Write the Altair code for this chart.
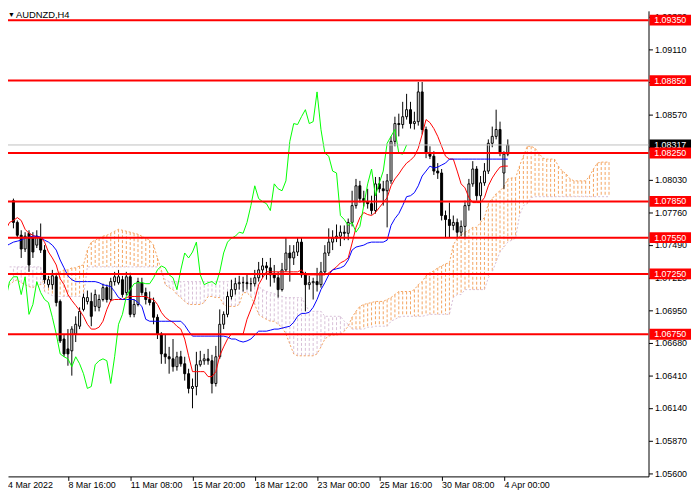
import altair as alt
import pandas as pd

symbol = "AUDNZD,H4"
last_price = 1.08317

x_tick_pos = [0, 16, 32, 48, 64, 80, 96, 112, 128]
x_tick_labels = ["4 Mar 2022", "8 Mar 16:00", "11 Mar 08:00", "15 Mar 20:00", "18 Mar 12:00",
                 "23 Mar 00:00", "25 Mar 16:00", "30 Mar 08:00", "4 Apr 00:00"]
y_ticks = [1.05600, 1.05870, 1.06140, 1.06410, 1.06680, 1.06950, 1.07220, 1.07490,
           1.07760, 1.08030, 1.08300, 1.08570, 1.08840, 1.09110, 1.09380]
levels = [1.09350, 1.08850, 1.08250, 1.07850, 1.07550, 1.07250, 1.06750]

open_ = [
    1.07733, 1.07831, 1.07856, 1.07676, 1.07570, 1.07456, 1.07586, 1.07546, 1.07488, 1.07546,
    1.07447, 1.07161, 1.07161, 1.07226, 1.07022, 1.06711, 1.06629, 1.06613, 1.06752, 1.06817,
    1.06956, 1.07022, 1.07022, 1.06981, 1.06973, 1.07038, 1.07136, 1.07038, 1.07186, 1.07177,
    1.07202, 1.07095, 1.07226, 1.06915, 1.06997, 1.07177, 1.07095, 1.07038, 1.07013, 1.06891,
    1.06752, 1.06588, 1.06564, 1.06547, 1.06482, 1.06564, 1.06506, 1.06424, 1.06302, 1.06318,
    1.06498, 1.06531, 1.06547, 1.06531, 1.06343, 1.06564, 1.06833, 1.06915, 1.07063, 1.07120,
    1.07169, 1.07177, 1.07177, 1.07169, 1.07169, 1.07218, 1.07283, 1.07316, 1.07300, 1.07242,
    1.07218, 1.07120, 1.07283, 1.07423, 1.07382, 1.07431, 1.07513, 1.07242, 1.07161, 1.07177,
    1.07186, 1.07161, 1.07267, 1.07423, 1.07513, 1.07546, 1.07562, 1.07595, 1.07586, 1.07676,
    1.07815, 1.07979, 1.07873, 1.07848, 1.07831, 1.07774, 1.07995, 1.07954, 1.07938, 1.08020,
    1.08347, 1.08494, 1.08486, 1.08551, 1.08609, 1.08494, 1.08510, 1.08756, 1.08445, 1.08249,
    1.08224, 1.08101, 1.08085, 1.07733, 1.07700, 1.07651, 1.07676, 1.07595, 1.07643, 1.07815,
    1.07995, 1.08118, 1.07897, 1.08004, 1.08101, 1.08331, 1.08388, 1.08445, 1.08085, 1.08241,
]
high_ = [
    1.07913, 1.07922, 1.07873, 1.07692, 1.07611, 1.07595, 1.07611, 1.07595, 1.07611, 1.07667,
    1.07488, 1.07234, 1.07283, 1.07259, 1.07038, 1.06744, 1.06793, 1.06817, 1.06899, 1.06973,
    1.07087, 1.07112, 1.07095, 1.07120, 1.07079, 1.07169, 1.07161, 1.07218, 1.07267, 1.07283,
    1.07234, 1.07267, 1.07259, 1.07038, 1.07218, 1.07218, 1.07136, 1.07104, 1.07054, 1.06915,
    1.06768, 1.06752, 1.06646, 1.06711, 1.06605, 1.06613, 1.06564, 1.06465, 1.06384, 1.06605,
    1.06613, 1.06588, 1.06629, 1.06580, 1.06654, 1.06956, 1.06940, 1.07104, 1.07202, 1.07218,
    1.07234, 1.07226, 1.07242, 1.07218, 1.07283, 1.07349, 1.07382, 1.07349, 1.07382, 1.07324,
    1.07267, 1.07341, 1.07554, 1.07488, 1.07488, 1.07546, 1.07554, 1.07267, 1.07234, 1.07218,
    1.07300, 1.07349, 1.07488, 1.07627, 1.07611, 1.07659, 1.07651, 1.07651, 1.07708, 1.07938,
    1.08036, 1.08020, 1.07938, 1.07954, 1.07897, 1.08052, 1.08052, 1.08020, 1.08077, 1.08388,
    1.08551, 1.08576, 1.08674, 1.08740, 1.08674, 1.08592, 1.08838, 1.08838, 1.08469, 1.08306,
    1.08265, 1.08167, 1.08118, 1.07774, 1.07840, 1.07733, 1.07708, 1.07692, 1.07856, 1.08036,
    1.08183, 1.08142, 1.08060, 1.08167, 1.08363, 1.08469, 1.08609, 1.08510, 1.08265, 1.08363,
]
low_ = [
    1.07692, 1.07790, 1.07627, 1.07546, 1.07382, 1.07431, 1.07267, 1.07382, 1.07464, 1.07423,
    1.07169, 1.07136, 1.07120, 1.06981, 1.06678, 1.06564, 1.06490, 1.06408, 1.06686, 1.06793,
    1.06940, 1.06997, 1.06817, 1.06940, 1.06940, 1.07022, 1.07013, 1.07022, 1.07153, 1.07161,
    1.07054, 1.07071, 1.06891, 1.06891, 1.06981, 1.07071, 1.06997, 1.06989, 1.06833, 1.06711,
    1.06506, 1.06506, 1.06424, 1.06441, 1.06449, 1.06482, 1.06367, 1.06261, 1.06138, 1.06245,
    1.06482, 1.06498, 1.06498, 1.06261, 1.06318, 1.06547, 1.06793, 1.06891, 1.07038, 1.07079,
    1.07120, 1.07104, 1.07120, 1.07104, 1.07145, 1.07186, 1.07218, 1.07202, 1.07145, 1.07177,
    1.07054, 1.07104, 1.07267, 1.07186, 1.07324, 1.07398, 1.07218, 1.06940, 1.07120, 1.07038,
    1.07104, 1.07136, 1.07242, 1.07398, 1.07447, 1.07513, 1.07480, 1.07529, 1.07529, 1.07643,
    1.07790, 1.07840, 1.07807, 1.07790, 1.07741, 1.07749, 1.07922, 1.07815, 1.07635, 1.07995,
    1.08306, 1.08388, 1.08453, 1.08527, 1.08453, 1.08445, 1.08477, 1.08404, 1.08208, 1.08200,
    1.08069, 1.08036, 1.07692, 1.07554, 1.07554, 1.07611, 1.07546, 1.07562, 1.07546, 1.07774,
    1.07971, 1.07856, 1.07692, 1.07979, 1.08077, 1.08298, 1.08363, 1.08224, 1.07954, 1.08224,
]
close_ = [
    1.07831, 1.07856, 1.07676, 1.07570, 1.07456, 1.07562, 1.07324, 1.07431, 1.07562, 1.07447,
    1.07202, 1.07202, 1.07234, 1.07013, 1.06695, 1.06588, 1.06588, 1.06793, 1.06833, 1.06940,
    1.07054, 1.07054, 1.06899, 1.07079, 1.07038, 1.07136, 1.07038, 1.07186, 1.07226, 1.07226,
    1.07079, 1.07226, 1.06915, 1.06997, 1.07186, 1.07095, 1.07038, 1.07013, 1.06891, 1.06752,
    1.06588, 1.06564, 1.06547, 1.06482, 1.06564, 1.06506, 1.06424, 1.06302, 1.06318, 1.06498,
    1.06531, 1.06547, 1.06531, 1.06343, 1.06564, 1.06833, 1.06915, 1.07063, 1.07120, 1.07169,
    1.07177, 1.07177, 1.07169, 1.07169, 1.07218, 1.07283, 1.07316, 1.07300, 1.07242, 1.07218,
    1.07120, 1.07283, 1.07423, 1.07382, 1.07431, 1.07513, 1.07242, 1.07161, 1.07177, 1.07186,
    1.07161, 1.07267, 1.07423, 1.07513, 1.07546, 1.07562, 1.07595, 1.07586, 1.07676, 1.07815,
    1.07979, 1.07873, 1.07848, 1.07831, 1.07774, 1.07995, 1.07954, 1.07938, 1.08020, 1.08347,
    1.08494, 1.08486, 1.08551, 1.08609, 1.08494, 1.08510, 1.08756, 1.08445, 1.08249, 1.08224,
    1.08101, 1.08085, 1.07733, 1.07700, 1.07651, 1.07676, 1.07595, 1.07643, 1.07815, 1.07995,
    1.08118, 1.07897, 1.08004, 1.08101, 1.08331, 1.08388, 1.08445, 1.08249, 1.08241, 1.08317,
]
tenkan = [
    1.07611, 1.07676, 1.07692, 1.07716, 1.07692, 1.07619, 1.07586, 1.07570, 1.07554, 1.07554,
    1.07513, 1.07431, 1.07382, 1.07324, 1.07210, 1.07161, 1.07079, 1.07030, 1.06989, 1.06948,
    1.06899, 1.06833, 1.06793, 1.06793, 1.06809, 1.06858, 1.06956, 1.07030, 1.07038, 1.07038,
    1.07038, 1.07054, 1.07063, 1.07063, 1.07063, 1.07063, 1.07063, 1.07046, 1.07038, 1.06997,
    1.06932, 1.06891, 1.06866, 1.06850, 1.06817, 1.06793, 1.06711, 1.06572, 1.06441, 1.06441,
    1.06441, 1.06441, 1.06400, 1.06400, 1.06441, 1.06572, 1.06646, 1.06711, 1.06752, 1.06752,
    1.06752, 1.06752, 1.06874, 1.06956, 1.07038, 1.07161, 1.07218, 1.07267, 1.07267, 1.07267,
    1.07267, 1.07267, 1.07267, 1.07267, 1.07267, 1.07267, 1.07283, 1.07242, 1.07242, 1.07242,
    1.07242, 1.07242, 1.07242, 1.07259, 1.07283, 1.07308, 1.07341, 1.07357, 1.07382, 1.07505,
    1.07635, 1.07716, 1.07758, 1.07741, 1.07733, 1.07758, 1.07799, 1.07840, 1.07881, 1.07979,
    1.08036, 1.08077, 1.08126, 1.08167, 1.08191, 1.08224, 1.08290, 1.08404, 1.08527, 1.08502,
    1.08453, 1.08388, 1.08306, 1.08224, 1.08200, 1.08200, 1.08101, 1.07995, 1.07962, 1.07881,
    1.07840, 1.07840, 1.07840, 1.07881, 1.07979, 1.08044, 1.08093, 1.08134, 1.08142, 1.08142,
]
kijun = [
    1.07480, 1.07496, 1.07513, 1.07521, 1.07529, 1.07546, 1.07554, 1.07562, 1.07562, 1.07554,
    1.07529, 1.07513, 1.07488, 1.07447, 1.07365, 1.07300, 1.07234, 1.07202, 1.07186, 1.07186,
    1.07186, 1.07186, 1.07186, 1.07186, 1.07177, 1.07161, 1.07153, 1.07145, 1.07104, 1.07054,
    1.07038, 1.07038, 1.07038, 1.07038, 1.07013, 1.06981, 1.06874, 1.06858, 1.06858, 1.06858,
    1.06858, 1.06858, 1.06858, 1.06858, 1.06858, 1.06858, 1.06825, 1.06776, 1.06735, 1.06735,
    1.06735, 1.06735, 1.06735, 1.06735, 1.06735, 1.06735, 1.06735, 1.06727, 1.06711, 1.06711,
    1.06695, 1.06686, 1.06695, 1.06711, 1.06744, 1.06776, 1.06776, 1.06776, 1.06784, 1.06793,
    1.06793, 1.06801, 1.06809, 1.06817, 1.06850, 1.06899, 1.06923, 1.06923, 1.06932, 1.06973,
    1.07038, 1.07120, 1.07177, 1.07242, 1.07283, 1.07292, 1.07300, 1.07316, 1.07365, 1.07447,
    1.07472, 1.07480, 1.07488, 1.07505, 1.07513, 1.07513, 1.07513, 1.07513, 1.07529, 1.07651,
    1.07708, 1.07749, 1.07815, 1.07889, 1.07897, 1.07922, 1.07979, 1.08060, 1.08101, 1.08142,
    1.08126, 1.08134, 1.08151, 1.08167, 1.08200, 1.08200, 1.08200, 1.08200, 1.08200, 1.08200,
    1.08200, 1.08200, 1.08200, 1.08200, 1.08200, 1.08200, 1.08200, 1.08200, 1.08200, 1.08200,
]
span_a = [
    1.07136, 1.07161, 1.07186, 1.07202, 1.07177, 1.07161, 1.07145, 1.07136, 1.07161, 1.07161,
    1.07202, 1.07218, 1.07234, 1.07251, 1.07267, 1.07283, 1.07283, 1.07300, 1.07300, 1.07316,
    1.07324, 1.07447, 1.07513, 1.07529, 1.07546, 1.07562, 1.07570, 1.07586, 1.07603, 1.07619,
    1.07611, 1.07603, 1.07595, 1.07586, 1.07578, 1.07562, 1.07546, 1.07529, 1.07488, 1.07382,
    1.07283, 1.07161, 1.07136, 1.07120, 1.07079, 1.07054, 1.07022, 1.06997, 1.06997, 1.06997,
    1.06997, 1.07013, 1.07063, 1.07063, 1.07054, 1.07054, 1.06997, 1.06981, 1.06981, 1.06981,
    1.06997, 1.07095, 1.07095, 1.07063, 1.06997, 1.06915, 1.06891, 1.06874, 1.06858, 1.06858,
    1.06833, 1.06809, 1.06752, 1.06670, 1.06588, 1.06572, 1.06572, 1.06572, 1.06572, 1.06572,
    1.06588, 1.06646, 1.06711, 1.06735, 1.06744, 1.06744, 1.06752, 1.06776, 1.06817, 1.06891,
    1.06940, 1.06981, 1.06997, 1.07005, 1.07013, 1.07022, 1.07022, 1.07022, 1.07038, 1.07054,
    1.07079, 1.07104, 1.07104, 1.07104, 1.07104, 1.07120, 1.07161, 1.07186, 1.07234, 1.07259,
    1.07275, 1.07300, 1.07316, 1.07333, 1.07341, 1.07488, 1.07546, 1.07570, 1.07595, 1.07611,
    1.07635, 1.07635, 1.07676, 1.07717, 1.07831, 1.07873, 1.07913, 1.07938, 1.07971, 1.08036,
    1.08044, 1.08044, 1.08142, 1.08224, 1.08306, 1.08306, 1.08290, 1.08249, 1.08208, 1.08200,
    1.08200, 1.08200, 1.08142, 1.08101, 1.08077, 1.08036, 1.08020, 1.08020, 1.08020, 1.08020,
    1.08060, 1.08118, 1.08167, 1.08175, 1.08175, 1.08175,
]
span_b = (
    [1.07308] * 10
    + [1.07104, 1.07087, 1.07071] + [1.07063] * 8
    + [1.07308] * 19
    + [1.07267, 1.07202]
    + [1.07186] * 23
    + [1.07145, 1.07120, 1.07104, 1.07095, 1.07087, 1.07071, 1.07063]
    + [1.07054] * 5
    + [1.06997]
    + [1.06940] * 4
    + [1.06899] * 5
    + [1.06858, 1.06833]
    + [1.06793] * 4
    + [1.06809] * 2
    + [1.06817] * 4
    + [1.06858, 1.06874, 1.06891]
    + [1.06899] * 6
    + [1.06907]
    + [1.06915] * 6
    + [1.07054, 1.07079, 1.07079]
    + [1.07120] * 6
    + [1.07218, 1.07267, 1.07349, 1.07431, 1.07472, 1.07513, 1.07529, 1.07546]
    + [1.07733, 1.07815, 1.07831, 1.07881]
    + [1.07889] * 20
)

# ---------------- tables ----------------
N = len(close_)
bars = pd.DataFrame({"i": list(range(N)), "open": open_, "high": high_, "low": low_, "close": close_})
bars["body"] = ["white" if c >= o else "black" for o, c in zip(open_, close_)]
lines = pd.DataFrame({"i": list(range(N)), "tenkan": tenkan, "kijun": kijun})
cloud = pd.DataFrame({"i": list(range(len(span_a))), "a": span_a, "b": span_b})
cloud["col"] = ["#F4A460" if a >= b else "#D8BFD8" for a, b in zip(span_a, span_b)]
chikou = pd.DataFrame({"i": list(range(N - 26)), "v": close_[26:]})
lev = pd.DataFrame({"level": levels, "label": [f"{v:.5f}" for v in levels]})
cur = pd.DataFrame({"level": [last_price], "label": [f"{last_price:.5f}"]})
first_lab = pd.DataFrame({"t": [x_tick_labels[0]]})

# only the bars from index 2 on fall inside the plotted window
bars_v = bars[bars.i >= 2]
cloud_v = cloud[cloud.i >= 2]

FONT = "Liberation Sans"
# plot area shows bar index 1.875 .. 163.875 (4 px per bar)
xscale = alt.Scale(domain=[1.875, 163.875], nice=False, zero=False)
yscale = alt.Scale(domain=[1.05574, 1.09427], nice=False, zero=False)

label_expr = ""
for p, l in zip(x_tick_pos[1:], x_tick_labels[1:]):
    label_expr += f"datum.value == {p} ? '{l}' : "
label_expr += "''"

xaxis = alt.Axis(values=x_tick_pos[1:], labelExpr=label_expr, title=None, grid=False, orient="bottom",
                 domainColor="black", tickColor="black", tickSize=4, labelAlign="left",
                 labelBaseline="top", labelPadding=0, labelFont=FONT, labelFontSize=9,
                 labelColor="black", labelOverlap=False, labelFlush=False, labelBound=False)
yaxis = alt.Axis(values=y_ticks, format=".5f", title=None, grid=False, orient="right",
                 domainColor="black", tickColor="black", tickSize=4, labelPadding=2,
                 labelFont=FONT, labelFontSize=9, labelColor="black", labelOverlap=False,
                 labelFlush=False, labelBaseline="middle", labelBound=False)


def X(f="i"):
    return alt.X(f"{f}:Q", scale=xscale, axis=xaxis)


def Y(f):
    return alt.Y(f"{f}:Q", scale=yscale, axis=yaxis)


cloud_rules = alt.Chart(cloud_v).mark_rule(strokeWidth=1, strokeDash=[3, 2], clip=True).encode(
    x=X(), y=Y("a"), y2="b", color=alt.Color("col:N", scale=None))
a_line = alt.Chart(cloud).mark_line(color="#F4A460", strokeWidth=1, strokeDash=[2, 2], clip=True).encode(
    x=X(), y=Y("a"))
b_line = alt.Chart(cloud).mark_line(color="#D8BFD8", strokeWidth=1, strokeDash=[2, 2], clip=True).encode(
    x=X(), y=Y("b"))

wicks = alt.Chart(bars_v).mark_rule(color="black", strokeWidth=1, clip=True).encode(
    x=X(), y=Y("low"), y2="high")
bodies = alt.Chart(bars_v).mark_bar(size=2, stroke="black", strokeWidth=1, opacity=1, clip=True).encode(
    x=X(), y=Y("open"), y2="close", fill=alt.Fill("body:N", scale=None))

tenkan_line = alt.Chart(lines).mark_line(color="#FF0000", strokeWidth=1, clip=True).encode(x=X(), y=Y("tenkan"))
kijun_line = alt.Chart(lines).mark_line(color="#0000FF", strokeWidth=1, clip=True).encode(x=X(), y=Y("kijun"))
chikou_line = alt.Chart(chikou).mark_line(color="#00FF00", strokeWidth=1, clip=True).encode(x=X(), y=Y("v"))

price_line = alt.Chart(cur).mark_rule(color="#C0C0C0", strokeWidth=1).encode(y=Y("level"))
level_rules = alt.Chart(lev).mark_rule(color="#FF0000", strokeWidth=2).encode(y=Y("level"))

cur_box = alt.Chart(cur).transform_calculate(
    lo="datum.level - 0.00045", hi="datum.level + 0.00045"
).mark_rect(color="black").encode(x=alt.value(649), x2=alt.value(691), y=Y("lo"), y2="hi")
cur_text = alt.Chart(cur).mark_text(color="white", font=FONT, fontSize=9, align="center",
                                    baseline="middle").encode(x=alt.value(670), y=Y("level"), text="label:N")
lev_box = alt.Chart(lev).transform_calculate(
    lo="datum.level - 0.00045", hi="datum.level + 0.00045"
).mark_rect(color="#FF0000").encode(x=alt.value(649), x2=alt.value(691), y=Y("lo"), y2="hi")
lev_text = alt.Chart(lev).mark_text(color="white", font=FONT, fontSize=9, align="center",
                                    baseline="middle").encode(x=alt.value(670), y=Y("level"), text="label:N")

first_x_label = alt.Chart(first_lab).mark_text(
    align="left", baseline="top", font=FONT, fontSize=9, color="black"
).encode(x=alt.value(0), y=alt.value(475.5), text="t:N")

marker = alt.Chart(pd.DataFrame({"t": ["\u25BC"]})).mark_text(
    align="left", baseline="alphabetic", fontSize=7, color="black"
).encode(x=alt.value(0), y=alt.value(6.5), text="t:N")
title = alt.Chart(pd.DataFrame({"t": [symbol]})).mark_text(
    align="left", baseline="alphabetic", font=FONT, fontSize=9.5, color="black"
).encode(x=alt.value(8), y=alt.value(7.5), text="t:N")

chart = alt.layer(
    cloud_rules, a_line, b_line, wicks, bodies, tenkan_line, kijun_line, chikou_line,
    price_line, level_rules, cur_box, cur_text, lev_box, lev_text, first_x_label, marker, title
).properties(
    width=648, height=471, autosize="none", background="white",
    padding={"left": 0, "top": 0, "right": 44, "bottom": 21}
).configure_view(stroke=None, strokeWidth=0)

chart.save("out.html", embed_options={"renderer": "svg", "actions": False})
